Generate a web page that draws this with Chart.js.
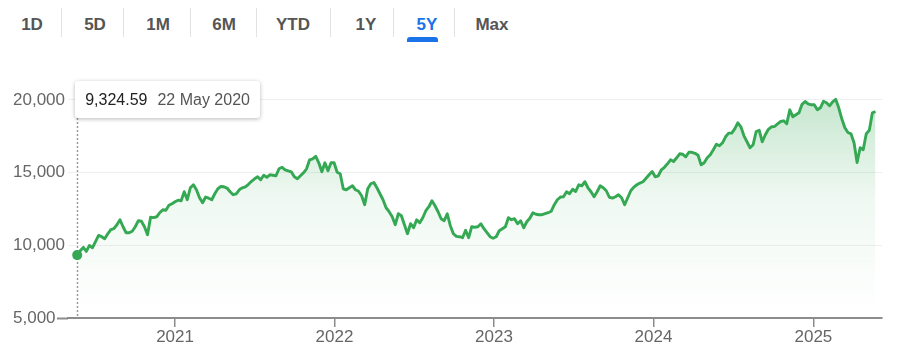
<!DOCTYPE html>
<html>
<head>
<meta charset="utf-8">
<title>5Y</title>
<script src="https://cdn.jsdelivr.net/npm/chart.js@4.4.1/dist/chart.umd.min.js"></script>
<style>
  html, body { margin: 0; padding: 0; background: #fff; }
  body {
    width: 904px; height: 360px; position: relative; overflow: hidden;
    font-family: "Liberation Sans", Arial, Helvetica, sans-serif;
  }
  #chart { position: absolute; left: 0; top: 0; }
  .tab {
    position: absolute; top: 14px; transform: translateX(-50%);
    font-size: 17px; font-weight: bold; color: #555; line-height: 22px; white-space: nowrap;
  }
  .tab.active { color: #1a73e8; }
  .sep { position: absolute; top: 8px; width: 1px; height: 29px; background: #e2e2e2; }
  .underline {
    position: absolute; left: 407px; top: 37px; width: 31px; height: 5px;
    background: #1a73e8; border-radius: 3px 3px 0 0;
  }
  #tip {
    position: absolute; display: none; background: #fff; border-radius: 3px;
    box-shadow: 0 1px 4px rgba(0, 0, 0, 0.28); padding: 0 10px; height: 37px;
    line-height: 37px; font-size: 16px; white-space: nowrap; z-index: 2;
  }
  #tip .val { color: #222; }
  #tip .date { color: #555; margin-left: 10px; }
</style>
</head>
<body>
<div id="tabs"></div>
<canvas id="chart" width="904" height="360"></canvas>
<div id="tip"></div>
<script>
// Weekly closes (Fridays), starting 22 May 2020
const closes2020 = [9324.59, 9625, 9853, 9578, 9990, 9830, 10245, 10680, 10590, 10450,
  10790, 11070, 11140, 11410, 11756, 11275, 10860, 10860, 10965, 11275,
  11690, 11650, 11275, 10730, 11930, 11900, 11960, 12240, 12440, 12410,
  12750, 12855];
const closes2021 = [12990, 13100, 13060, 13680, 13130, 13955, 14160, 13815, 13270, 12925,
  13315, 13235, 13130, 13540, 13885, 14045, 14020, 13935, 13680, 13475,
  13540, 13817, 13954, 14023, 14195, 14401, 14573, 14710, 14504, 14813,
  14676, 14848, 14813, 14779, 15260, 15363, 15191, 15122, 15054, 14710,
  14573, 14779, 14985, 15260, 15878, 15947, 16118, 15672, 15054, 15672,
  15122, 15672, 15672];
const closes2022 = [15019, 14916, 13886, 13817, 13954, 14092, 13817, 13714, 13405, 12787,
  13886, 14229, 14318, 13954, 13542, 13130, 12580, 12306, 11962, 11413,
  12168, 12031, 11413, 10794, 11481, 11206, 11756, 11550, 11893, 12374,
  12649, 13061, 12718, 12306, 11825, 11687, 12168, 11344, 10794, 10609,
  10588, 10519, 11035, 10519, 11275, 11241, 11275, 11481, 11138, 10863,
  10588, 10485];
const closes2023 = [10588, 11000, 11138, 11275, 11893, 11756, 11825, 11481, 11687, 11206,
  11619, 11859, 12237, 12134, 12100, 12100, 12168, 12237, 12340, 12787,
  13130, 13316, 13336, 13680, 13542, 13851, 13700, 14160, 14092, 14367,
  13954, 13680, 13336, 13680, 14092, 13954, 13748, 13302, 13247, 13336,
  13474, 13267, 12787, 13267, 13748, 14002, 14160, 14277, 14367, 14607,
  14848, 15074];
const closes2024 = [14710, 14779, 15191, 15363, 15603, 15878, 15761, 16015, 16290, 16256,
  16084, 16393, 16393, 16325, 16187, 15535, 15672, 16015, 16221, 16565,
  16943, 16840, 17046, 17458, 17712, 17712, 18008, 18420, 18145, 17527,
  17115, 16702, 16909, 17822, 17904, 17115, 17596, 17973, 18145, 18166,
  18351, 18509, 18557, 18351, 19313, 18832, 18970, 19107, 19691, 19883,
  19725, 19657];
const closes2025 = [19657, 19313, 19450, 19897, 19794, 19588, 19863, 20034, 19450, 18695,
  18076, 17754, 17664, 17046, 15693, 16702, 16565, 17664, 17904, 19107,
  19196];

const tabLabels = ['1D', '5D', '1M', '6M', 'YTD', '1Y', '5Y', 'Max'];
const activeTab = '5Y';
const yTicks = [5000, 10000, 15000, 20000];
const yearTicks = [2021, 2022, 2023, 2024, 2025];
const monthNames = ['Jan', 'Feb', 'Mar', 'Apr', 'May', 'Jun', 'Jul', 'Aug', 'Sep', 'Oct', 'Nov', 'Dec'];

// range selector row
const tabCenters = [32, 95, 158, 224, 293, 366, 427, 492];
const sepX = [61, 123, 190, 256, 330, 393, 454];
const tabs = document.getElementById('tabs');
tabLabels.forEach(function(label, i) {
    const el = document.createElement('div');
    el.className = 'tab' + (label === activeTab ? ' active' : '');
    el.style.left = tabCenters[i] + 'px';
    el.textContent = label;
    tabs.appendChild(el);
});
sepX.forEach(function(x) {
    const s = document.createElement('div');
    s.className = 'sep';
    s.style.left = x + 'px';
    tabs.appendChild(s);
});
const ul = document.createElement('div');
ul.className = 'underline';
tabs.appendChild(ul);

const DAY = 864e5;
const firstClose = Date.UTC(2020, 4, 22);
const closes = [].concat(closes2020, closes2021, closes2022, closes2023, closes2024, closes2025);
const points = closes.map(function(v, i) {
    return { x: firstClose + i * 7 * DAY, y: v };
});

const green = '#34a853';
const axisGrey = '#8c8c8c';
const fontFamily = '"Liberation Sans", Arial, Helvetica, sans-serif';

function fmtDate(ms) {
    const d = new Date(ms);
    return d.getUTCDate() + ' ' + monthNames[d.getUTCMonth()] + ' ' + d.getUTCFullYear();
}

// tooltip pinned to the top of the plot, left edge at the point
Chart.Tooltip.positioners.pinTop = function(items) {
    if (!items.length) return false;
    return { x: items[0].element.x, y: this.chart.chartArea.top };
};

function renderTip(context) {
    const tip = document.getElementById('tip');
    const tooltip = context.tooltip;
    if (tooltip.opacity === 0 || !tooltip.dataPoints || !tooltip.dataPoints.length) {
        tip.style.display = 'none';
        return;
    }
    const p = tooltip.dataPoints[0];
    const val = p.parsed.y.toLocaleString('en-US', { minimumFractionDigits: 2, maximumFractionDigits: 2 });
    tip.innerHTML = '<span class="val">' + val + '</span><span class="date">' + fmtDate(p.parsed.x) + '</span>';
    tip.style.display = 'block';
    tip.style.left = (tooltip.caretX - 2) + 'px';
    tip.style.top = (tooltip.caretY + 3) + 'px';
}

// dotted guide under the tooltip
const guideLine = {
    id: 'guideLine',
    beforeDatasetsDraw(chart) {
        const active = chart.tooltip.getActiveElements();
        if (!active.length) return;
        const x = Math.round(active[0].element.x) + 0.5;
        const ctx = chart.ctx;
        ctx.save();
        ctx.setLineDash([2, 2]);
        ctx.strokeStyle = '#9a9a9a';
        ctx.lineWidth = 1.5;
        ctx.beginPath();
        ctx.moveTo(x, chart.chartArea.top + 40);
        ctx.lineTo(x, chart.chartArea.bottom - 2);
        ctx.stroke();
        ctx.restore();
    }
};

const chart = new Chart(document.getElementById('chart'), {
    type: 'line',
    data: {
        datasets: [{
            data: points,
            borderColor: green,
            borderWidth: 2.9,
            borderJoinStyle: 'round',
            tension: 0,
            fill: 'start',
            backgroundColor: function(ctx) {
                const area = ctx.chart.chartArea;
                if (!area) return 'rgba(52,168,83,0.1)';
                const g = ctx.chart.ctx.createLinearGradient(0, area.top, 0, area.bottom);
                g.addColorStop(0, 'rgba(52,168,83,0.32)');
                g.addColorStop(0.5, 'rgba(52,168,83,0.08)');
                g.addColorStop(0.9, 'rgba(52,168,83,0.01)');
                g.addColorStop(1, 'rgba(52,168,83,0)');
                return g;
            },
            pointRadius: function(ctx) { return ctx.dataIndex === 0 ? 5 : 0; },
            pointHoverRadius: function(ctx) { return ctx.dataIndex === 0 ? 5 : 0; },
            pointBackgroundColor: green,
            pointHoverBackgroundColor: green,
            pointBorderWidth: 0,
            pointHoverBorderWidth: 0
        }]
    },
    options: {
        responsive: false,
        animation: false,
        devicePixelRatio: 1,
        events: [],
        layout: { padding: { left: 13, right: 22, top: 78, bottom: 0 } },
        plugins: {
            legend: { display: false },
            tooltip: { enabled: false, position: 'pinTop', external: renderTip }
        },
        scales: {
            x: {
                type: 'linear',
                min: Date.UTC(2020, 4, 1),
                max: Date.UTC(2025, 5, 7),
                afterBuildTicks: function(scale) {
                    scale.ticks = yearTicks.map(function(y) { return { value: Date.UTC(y, 0, 1) }; });
                },
                afterFit: function(scale) { scale.height = 42; },
                grid: { drawOnChartArea: false, drawTicks: true, tickLength: 9, color: axisGrey, lineWidth: 1.5 },
                border: { display: true, color: axisGrey, width: 2 },
                ticks: {
                    autoSkip: false, maxRotation: 0, padding: 0, color: '#666',
                    font: { family: fontFamily, size: 17 },
                    callback: function(v) { return new Date(v).getUTCFullYear(); }
                }
            },
            y: {
                min: 5000,
                max: 21500,
                afterBuildTicks: function(scale) {
                    scale.ticks = yTicks.map(function(v) { return { value: v }; });
                },
                afterFit: function(scale) { scale.width = 55; },
                grid: {
                    drawTicks: true,
                    tickLength: 11,
                    color: function(c) { return c.tick && c.tick.value === 5000 ? 'rgba(0,0,0,0)' : '#efefef'; },
                    tickColor: function(c) { return c.tick && c.tick.value === 5000 ? axisGrey : 'rgba(0,0,0,0)'; },
                    tickWidth: 2
                },
                border: { display: false },
                ticks: {
                    crossAlign: 'far', padding: 0, color: '#666',
                    font: { family: fontFamily, size: 17 },
                    callback: function(v) { return v.toLocaleString('en-US'); }
                }
            }
        }
    },
    plugins: [guideLine]
});

chart.setActiveElements([{ datasetIndex: 0, index: 0 }]);
chart.tooltip.setActiveElements([{ datasetIndex: 0, index: 0 }], { x: 0, y: 0 });
chart.update();
</script>
</body>
</html>
